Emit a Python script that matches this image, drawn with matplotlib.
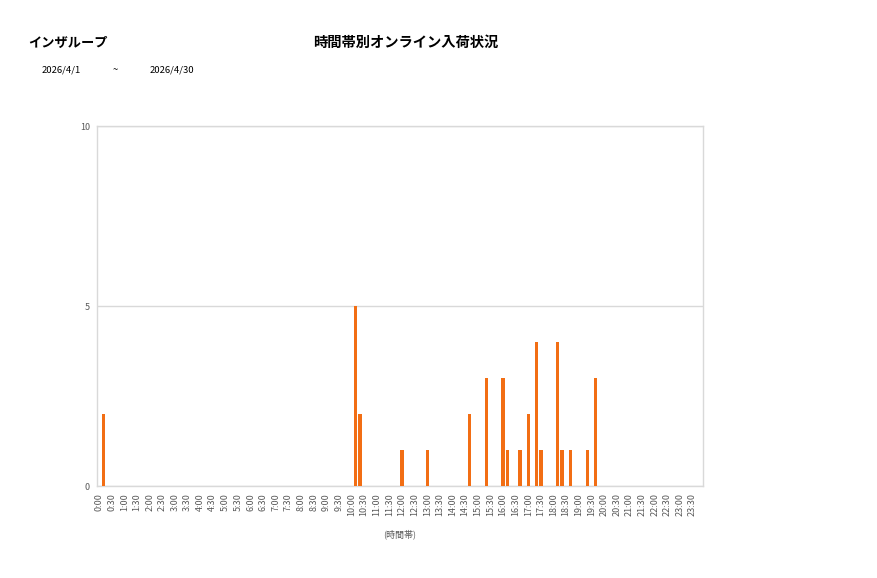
import matplotlib.pyplot as plt
import numpy as np

plt.rcParams['font.family'] = ['Noto Sans CJK JP', 'DejaVu Sans']

# Datos: entradas por franja de 10 minutos (una fila por hora: :00 :10 :20 :30 :40 :50)
counts_by_hour = [
    [0, 2, 0, 0, 0, 0],  # 0
    [0, 0, 0, 0, 0, 0],  # 1
    [0, 0, 0, 0, 0, 0],  # 2
    [0, 0, 0, 0, 0, 0],  # 3
    [0, 0, 0, 0, 0, 0],  # 4
    [0, 0, 0, 0, 0, 0],  # 5
    [0, 0, 0, 0, 0, 0],  # 6
    [0, 0, 0, 0, 0, 0],  # 7
    [0, 0, 0, 0, 0, 0],  # 8
    [0, 0, 0, 0, 0, 0],  # 9
    [0, 5, 2, 0, 0, 0],  # 10
    [0, 0, 0, 0, 0, 0],  # 11
    [1, 0, 0, 0, 0, 0],  # 12
    [1, 0, 0, 0, 0, 0],  # 13
    [0, 0, 0, 0, 2, 0],  # 14
    [0, 0, 3, 0, 0, 0],  # 15
    [3, 1, 0, 0, 1, 0],  # 16
    [2, 0, 4, 1, 0, 0],  # 17
    [0, 4, 1, 0, 1, 0],  # 18
    [0, 0, 1, 0, 3, 0],  # 19
    [0, 0, 0, 0, 0, 0],  # 20
    [0, 0, 0, 0, 0, 0],  # 21
    [0, 0, 0, 0, 0, 0],  # 22
    [0, 0, 0, 0, 0, 0],  # 23
]
slot_labels = [f"{h}:{m:02d}" for h in range(24) for m in range(0, 60, 10)]
counts = [c for row in counts_by_hour for c in row]

company = "インザループ"
title = "時間帯別オンライン入荷状況"
date_from = "2026/4/1"
date_to = "2026/4/30"
y_ticks = [0, 5, 10]

bar_color = '#F26E14'
grid_color = '#D9D9D9'
text_color = '#595959'

fig = plt.figure(figsize=(8.77, 5.78), dpi=100)
ax = fig.add_axes([97 / 877, 92 / 578, 606 / 877, 360 / 578])

x = np.arange(len(slot_labels))
ax.bar(x, counts, width=0.78, color=bar_color, zorder=3)

ax.set_xlim(-0.5, len(slot_labels) - 0.5)
ax.set_ylim(0, 10)
ax.set_yticks(y_ticks)
ax.set_yticklabels([str(v) for v in y_ticks], fontsize=6.5, color=text_color)
ax.yaxis.grid(True, color=grid_color, linewidth=1, zorder=0)

# Etiquetas del eje x cada 30 minutos
ax.set_xticks(x[::3])
ax.set_xticklabels(slot_labels[::3], rotation=90, fontsize=6.5, color=text_color)
ax.tick_params(axis='both', length=0, pad=5)

for side in ['top', 'bottom', 'left', 'right']:
    ax.spines[side].set_color(grid_color)
    ax.spines[side].set_linewidth(1)

ax.set_xlabel("(時間帯)", fontsize=6.5, color=text_color, labelpad=10)

# Textos de cabecera
fig.text(28 / 877, 1 - 43 / 578, company, fontsize=9.5, fontweight='bold', va='center', ha='left')
fig.text(406 / 877, 1 - 43 / 578, title, fontsize=10.3, fontweight='bold', va='center', ha='center')
fig.text(42 / 877, 1 - 70 / 578, date_from, fontsize=6.8, va='center', ha='left')
fig.text(113 / 877, 1 - 70 / 578, "~", fontsize=6.8, va='center', ha='left')
fig.text(150 / 877, 1 - 70 / 578, date_to, fontsize=6.8, va='center', ha='left')

fig.savefig('out.png', dpi=100)
